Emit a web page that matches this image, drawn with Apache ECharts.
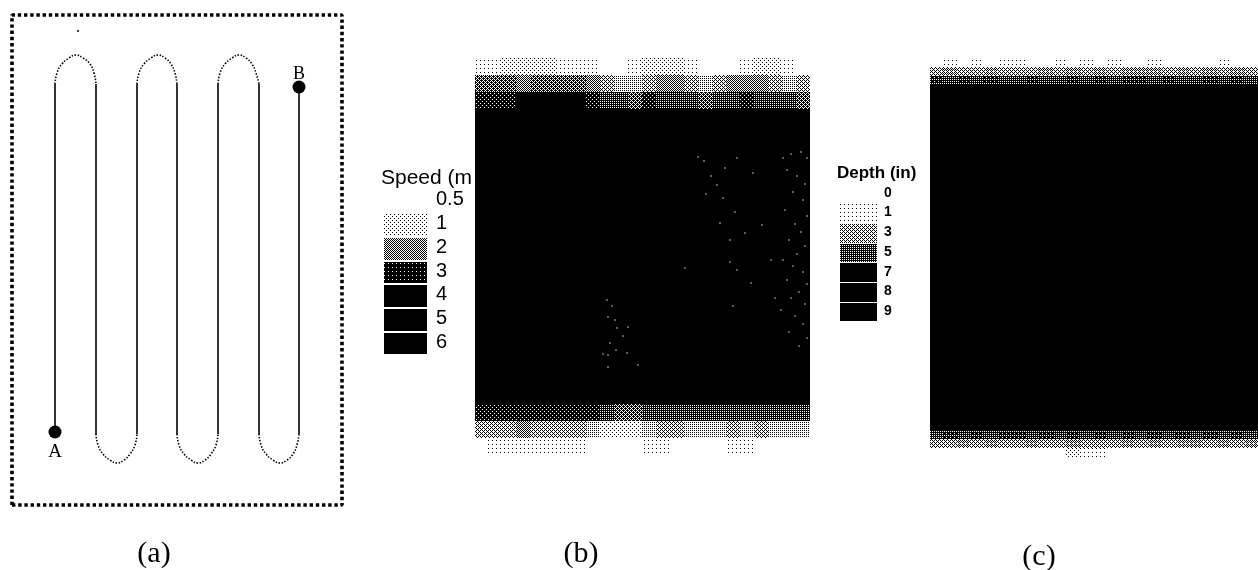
<!DOCTYPE html>
<html><head><meta charset="utf-8">
<style>html,body{margin:0;padding:0;background:#fff}#c{width:1258px;height:570px}</style>
<script src="https://cdn.jsdelivr.net/npm/echarts@6/dist/echarts.min.js"></script>
</head><body><div id="c"></div>
<script>
// (a) path, in field units
const fieldBoundary = [[0,0],[330,0],[330,490],[0,490],[0,0]];
const passes = [
  [[43,74],[43,421]],[[84,421],[84,71]],[[125,71],[125,421]],[[165,421],[165,71]],
  [[206,71],[206,421]],[[247,421],[247,71]],[[287,71],[287,418]]
];
const turns = [
  [[43,421],[45,432],[50,441],[57,447],[64,450],[71,447],[78,441],[82,432],[84,421]],
  [[125,421],[127,432],[132,441],[139,447],[146,450],[153,447],[159,441],[163,432],[165,421]],
  [[206,421],[208,432],[213,441],[220,447],[227,450],[234,447],[240,441],[244,432],[247,421]],
  [[84,71],[86,60],[91,51],[98,45],[105,42],[112,45],[118,51],[123,60],[125,71]],
  [[165,71],[167,60],[172,51],[179,45],[186,42],[193,45],[199,51],[204,60],[206,71]],
  [[247,71],[249,60],[254,51],[261,45],[268,42],[275,45],[281,51],[285,60],[287,71]]
];
const endpointA = [43,73];
const endpointB = [287,418];
const fieldSpeck = [[66,474]];

// (b) speed: one string per row, one digit per column (class index)
const speedClassValues = [0.5,0.7,0.9,1.2,1.5,1.8,2.2,2.5,2.8,4];
const speedRows = [
  "112222111001222100012210",
  "666566665433455434555434",
  "888999998776877767787776",
  "999999999999999999999999","999999999999999999999999","999999999999999999999999",
  "999999999999999999999999","999999999999999999999999","999999999999999999999999",
  "999999999999999999999999","999999999999999999999999","999999999999999999999999",
  "999999999999999999999999","999999999999999999999999","999999999999999999999999",
  "999999999999999999999999","999999999999999999999999","999999999999999999999999",
  "999999999999999999999999","999999999999999999999999",
  "888888888766777777777777",
  "444544443222344333434333",
  "011111110000110000110000"
];
const speedLegendLabels = ["0.5","1","2","3","4","5","6"];
const speedLegendValues = [0.5,1,2,3,4,5,6];
// share of dark dots (out of 16) at each speed level
const speedLevels = [0.5,0.7,0.9,1,1.2,1.5,1.8,2,2.2,2.5,2.8,3,4,5,6];
const speedDots   = [0,1,2,2,4,6,8,8,10,12,14,15,16,16,16];
// speckles in (b), read in plot units
const speedSpecks = [[223,99],[229,103],[242,127],[236,118],[250,110],[262,100],[248,140],[260,154],[245,165],[255,182],[255,204],[262,212],
  [287,167],[231,136],[278,115],[270,175],[210,210],[276,225],[300,240],[258,248],[296,202],
  [308,100],[316,96],[326,94],[332,100],[312,112],[322,118],[330,126],[318,134],[328,142],[310,152],[332,158],[320,166],[326,174],
  [314,182],[330,188],[322,196],[308,202],[318,208],[328,214],[312,222],[332,226],[324,234],[316,240],[330,246],[306,252],[320,258],[328,266],[314,274],[332,280],[324,288],
  [132,242],[137,248],[133,259],[140,262],[142,270],[153,269],[135,285],[148,278],[133,297],[152,295],[133,309],[163,307],[141,292],[128,296]];

// (c) depth: one string per row, one digit per column (depth in inches)
const depthRows = [
  "010101100101010010000100",
  "343343334343434443434343",
  "656565565565656656556565",
  "888888888888888888888888","888888888888888888888888","888888888888888888888888",
  "888888888888888888888888","888888888888888888888888","888888888888888888888888",
  "888888888888888888888888","888888888888888888888888","888888888888888888888888",
  "888888888888888888888888","888888888888888888888888","888888888888888888888888",
  "888888888888888888888888","888888888888888888888888","888888888888888888888888",
  "888888888888888888888888","888888888888888888888888","888888888888888888888888",
  "888888888888888888888888","888888888888888888888888","888888888888888888888888",
  "888888888888888888888888","888888888888888888888888","888888888888888888888888",
  "888888888888888888888888","888888888888888888888888","888888888888888888888888",
  "888888888888888888888888","888888888888888888888888","888888888888888888888888",
  "888888888888888888888888","888888888888888888888888","888888888888888888888888",
  "888888888888888888888888","888888888888888888888888","888888888888888888888888",
  "888888888888888888888888","888888888888888888888888",
  "565656656565656565656565",
  "334343343343334343443434",
  "000000000021100000000000"
];
const depthLegendLabels = ["0","1","3","5","7","8","9"];
const depthLegendValues = [0,1,3,5,7,8,9];
const depthLevels = [0,1,2,3,4,5,6,7,8,9];
const depthDots   = [0,1,2,6,7,12,13,16,16,16];

// halftone fill: the source is a 1-bit print, so each level is a Bayer dot screen
const bayer = [[0,8,2,10],[12,4,14,6],[3,11,1,9],[15,7,13,5]];
const screens = {};
function screen(dots){
  if (dots <= 0) return '#ffffff';
  if (dots >= 16) return '#000000';
  if (screens[dots]) return screens[dots];
  const cv = document.createElement('canvas'); cv.width = cv.height = 4;
  const g = cv.getContext('2d');
  g.fillStyle = '#fff'; g.fillRect(0,0,4,4); g.fillStyle = '#000';
  for (let y=0;y<4;y++) for (let x=0;x<4;x++) if (bayer[y][x] < dots) g.fillRect(x,y,1,1);
  return screens[dots] = {image:cv, repeat:'repeat'};
}
const lookup = (levels,dots) => v => screen(dots[levels.indexOf(v)]);
const speedFill = lookup(speedLevels,speedDots), depthFill = lookup(depthLevels,depthDots);

function cellSeries(xi,yi,data,fill,gap){
  return {type:'custom',xAxisIndex:xi,yAxisIndex:yi,coordinateSystem:'cartesian2d',silent:true,clip:false,data,
    encode:{x:0,y:1},
    renderItem(params,api){
      const c = api.coord([api.value(0),api.value(1)]), s = api.size([1,1]);
      const x0 = Math.floor(c[0]-s[0]/2), x1 = Math.ceil(c[0]+s[0]/2);
      const y0 = Math.floor(c[1]-s[1]/2), y1 = Math.ceil(c[1]+s[1]/2);
      return {type:'rect',shape:{x:x0,y:y0+gap,width:x1-x0,height:y1-y0-gap},style:{fill:fill(api.value(2))}};
    }};
}
function rowsToCells(rows, mapper){
  const out=[];
  rows.forEach((r,y)=>{ for(let x=0;x<r.length;x++) out.push([x,y,mapper(+r[x])]); });
  return out;
}
const idx = n => Array.from({length:n},(_,i)=>String(i));
const sans = '"Liberation Sans",Arial,sans-serif', serif = '"Liberation Serif","Times New Roman",serif';

const grids = [
  {left:12,top:15,width:330,height:490},
  {left:475,top:58,width:335,height:398},
  {left:930,top:58,width:328,height:400},
  {left:384,top:188,width:43,height:166},
  {left:840,top:183,width:37,height:138},
  {left:475,top:58,width:335,height:398}
];
const hiddenCat = (g,n,extra)=>Object.assign({type:'category',gridIndex:g,data:idx(n),show:false},extra||{});
const xAxis = [
  {type:'value',gridIndex:0,min:0,max:330,show:false},
  hiddenCat(1,24),hiddenCat(2,24),hiddenCat(3,1),hiddenCat(4,1),
  {type:'value',gridIndex:5,min:0,max:335,show:false}
];
const legendY = (g,labels,font,w,m)=>({type:'category',gridIndex:g,data:labels,inverse:true,position:'right',
  axisLine:{show:false},axisTick:{show:false},splitLine:{show:false},
  axisLabel:{show:true,interval:0,margin:m,fontFamily:sans,fontSize:font,fontWeight:w,color:'#000',align:'left'}});
const yAxis = [
  {type:'value',gridIndex:0,min:0,max:490,show:false},
  hiddenCat(1,speedRows.length,{inverse:true}),
  hiddenCat(2,depthRows.length,{inverse:true}),
  legendY(3,speedLegendLabels,20,'normal',9),
  legendY(4,depthLegendLabels,14,'bold',7),
  {type:'value',gridIndex:5,min:0,max:398,inverse:true,show:false}
];
const series = [];
passes.forEach(p=>series.push({type:'line',xAxisIndex:0,yAxisIndex:0,data:p,showSymbol:false,clip:false,silent:true,
  lineStyle:{color:'#000',width:1.6}}));
turns.forEach(t=>series.push({type:'line',xAxisIndex:0,yAxisIndex:0,data:t,smooth:0.5,showSymbol:false,clip:false,silent:true,
  lineStyle:{color:'#000',width:1.6,type:[1.5,1.6]}}));
series.push({type:'line',xAxisIndex:0,yAxisIndex:0,data:fieldBoundary,showSymbol:false,clip:false,silent:true,
  lineStyle:{color:'#000',width:3.6,type:[3.4,2.8]}});
series.push({type:'scatter',xAxisIndex:0,yAxisIndex:0,symbolSize:13,itemStyle:{color:'#000',opacity:1},silent:true,clip:false,
  data:[
    {value:endpointA,label:{show:true,position:'bottom',distance:4,formatter:'A',fontFamily:serif,fontSize:19,color:'#000'}},
    {value:endpointB,label:{show:true,position:'top',distance:-3,formatter:'B',fontFamily:serif,fontSize:18,color:'#000'}}
  ]});
series.push({type:'scatter',xAxisIndex:0,yAxisIndex:0,symbolSize:2,itemStyle:{color:'#000',opacity:1},silent:true,data:fieldSpeck});
series.push(cellSeries(1,1,rowsToCells(speedRows,d=>speedClassValues[d]),speedFill,0));
series.push(cellSeries(2,2,rowsToCells(depthRows,d=>d),depthFill,0));
series.push(cellSeries(3,3,speedLegendValues.map((v,i)=>[0,i,v]),speedFill,3));
series.push(cellSeries(4,4,depthLegendValues.map((v,i)=>[0,i,v]),depthFill,2));
series.push({type:'scatter',xAxisIndex:5,yAxisIndex:5,symbol:'rect',symbolSize:1.4,itemStyle:{color:'#b0b0b0',opacity:1},silent:true,data:speedSpecks});

const chart = echarts.init(document.getElementById('c'),null,{renderer:'canvas'});
chart.setOption({
  animation:false,backgroundColor:'#fff',
  grid:grids,xAxis,yAxis,series,tooltip:{show:false},
  title:[
    {text:'Speed (m',left:381,top:168,textStyle:{fontFamily:sans,fontSize:21,fontWeight:'normal',color:'#000'},padding:0},
    {text:'Depth (in)',left:837,top:165,textStyle:{fontFamily:sans,fontSize:17,fontWeight:'bold',color:'#000'},padding:0},
    {text:'(a)',left:154,top:539,textAlign:'center',textStyle:{fontFamily:serif,fontSize:30,fontWeight:'normal',color:'#000'},padding:0},
    {text:'(b)',left:581,top:539,textAlign:'center',textStyle:{fontFamily:serif,fontSize:30,fontWeight:'normal',color:'#000'},padding:0},
    {text:'(c)',left:1039,top:542,textAlign:'center',textStyle:{fontFamily:serif,fontSize:30,fontWeight:'normal',color:'#000'},padding:0}
  ]
});
</script></body></html>
